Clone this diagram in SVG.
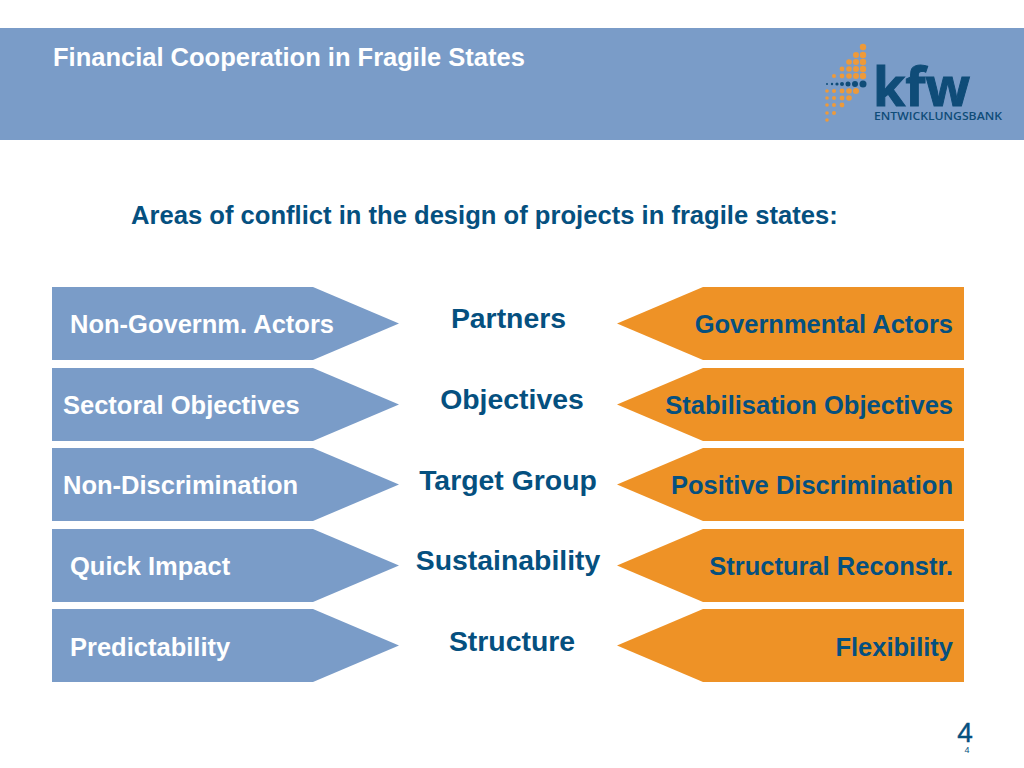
<svg xmlns="http://www.w3.org/2000/svg" width="1024" height="768" viewBox="0 0 1024 768">
<style>
text{font-family:"Liberation Sans",Arial,sans-serif;font-weight:bold}
.l{fill:#7a9cc8}.r{fill:#ee9226}
.lt{fill:#fff;font-size:25.5px}
.rt{fill:#05507f;font-size:25.5px;text-anchor:end}
.c{fill:#05507f;font-size:28.4px;text-anchor:middle}
.o{fill:#ee9a3a}.d{fill:#0f4c78}
</style>
<rect width="1024" height="768" fill="#fff"/>
<g id="header">
<rect x="0" y="28" width="1024" height="112" fill="#7a9cc8"/>
<text x="53" y="66" fill="#fff" font-size="25.5">Financial Cooperation in Fragile States</text>
</g>
<g id="logo">
<g class="o">
<circle cx="863" cy="47" r="3.2"/><circle cx="863" cy="55" r="3.2"/><circle cx="863" cy="62" r="3.2"/><circle cx="863" cy="69" r="3.2"/><circle cx="863" cy="76" r="3.2"/>
<circle cx="856" cy="55" r="3"/><circle cx="856" cy="62" r="3"/><circle cx="856" cy="69" r="3"/><circle cx="856" cy="76" r="3"/><circle cx="856" cy="91" r="3"/>
<circle cx="849" cy="62" r="2.8"/><circle cx="849" cy="69" r="2.8"/><circle cx="849" cy="76" r="2.8"/><circle cx="849" cy="91" r="2.8"/><circle cx="849" cy="98" r="2.8"/>
<circle cx="842" cy="69" r="2.4"/><circle cx="842" cy="76" r="2.4"/><circle cx="842" cy="91" r="2.4"/><circle cx="842" cy="98" r="2.4"/><circle cx="842" cy="105" r="2.4"/>
<circle cx="834" cy="76" r="2"/><circle cx="834" cy="91" r="2"/><circle cx="834" cy="98" r="2"/><circle cx="834" cy="105" r="2"/><circle cx="834" cy="113" r="2"/>
<circle cx="827" cy="91" r="1.8"/><circle cx="827" cy="98" r="1.8"/><circle cx="827" cy="105" r="1.8"/><circle cx="827" cy="113" r="1.8"/><circle cx="827" cy="120" r="1.8"/>
</g>
<g class="d">
<circle cx="827" cy="84" r="1"/><circle cx="832" cy="84" r="1.2"/><circle cx="837" cy="84" r="1.6"/><circle cx="842" cy="84" r="2"/><circle cx="848" cy="84" r="2.5"/><circle cx="855" cy="84" r="3"/><circle cx="863" cy="84" r="3.5"/>
</g>
<text x="873" y="106" font-size="53" fill="#0f4c78" stroke="#0f4c78" stroke-width="1" textLength="97" lengthAdjust="spacingAndGlyphs" style="font-family:'Open Sans','Liberation Sans',sans-serif;font-weight:bold">kfw</text>
<text x="874" y="120" font-size="11.500" fill="#0f4c78" textLength="128" lengthAdjust="spacingAndGlyphs" style="font-family:'Open Sans','Liberation Sans',sans-serif;font-weight:600">ENTWICKLUNGSBANK</text>
</g>
<text id="subtitle" x="131" y="224" fill="#05507f" font-size="25.600">Areas of conflict in the design of projects in fragile states:</text>
<g id="left-1"><polygon class="l" points="52,287 313,287 399,323.500 313,360 52,360"/><text class="lt" x="70" y="333">Non-Governm. Actors</text></g>
<g id="left-2"><polygon class="l" points="52,368 313,368 399,404.500 313,441 52,441"/><text class="lt" x="63" y="414">Sectoral Objectives</text></g>
<g id="left-3"><polygon class="l" points="52,448 313,448 399,484.500 313,521 52,521"/><text class="lt" x="63" y="494">Non-Discrimination</text></g>
<g id="left-4"><polygon class="l" points="52,529 313,529 399,565.500 313,602 52,602"/><text class="lt" x="70" y="575">Quick Impact</text></g>
<g id="left-5"><polygon class="l" points="52,609 313,609 399,645.500 313,682 52,682"/><text class="lt" x="70" y="656">Predictability</text></g>
<g id="center-1"><text class="c" x="508.500" y="327.700">Partners</text></g>
<g id="center-2"><text class="c" x="512" y="408.700">Objectives</text></g>
<g id="center-3"><text class="c" x="508" y="489.700">Target Group</text></g>
<g id="center-4"><text class="c" x="508" y="569.700">Sustainability</text></g>
<g id="center-5"><text class="c" x="512" y="650.700">Structure</text></g>
<g id="right-1"><polygon class="r" points="964,287 703,287 617,323.500 703,360 964,360"/><text class="rt" x="953" y="333">Governmental Actors</text></g>
<g id="right-2"><polygon class="r" points="964,368 703,368 617,404.500 703,441 964,441"/><text class="rt" x="953" y="414">Stabilisation Objectives</text></g>
<g id="right-3"><polygon class="r" points="964,448 703,448 617,484.500 703,521 964,521"/><text class="rt" x="953" y="494">Positive Discrimination</text></g>
<g id="right-4"><polygon class="r" points="964,529 703,529 617,565.500 703,602 964,602"/><text class="rt" x="953" y="575">Structural Reconstr.</text></g>
<g id="right-5"><polygon class="r" points="964,609 703,609 617,645.500 703,682 964,682"/><text class="rt" x="953" y="656">Flexibility</text></g>
<g id="page-number">
<text x="965" y="742" text-anchor="middle" fill="#05507f" font-size="28" stroke="#05507f" stroke-width="0.4" style="font-weight:normal">4</text>
<text x="967" y="753" text-anchor="middle" fill="#05507f" font-size="9" style="font-weight:normal">4</text>
</g>
</svg>
